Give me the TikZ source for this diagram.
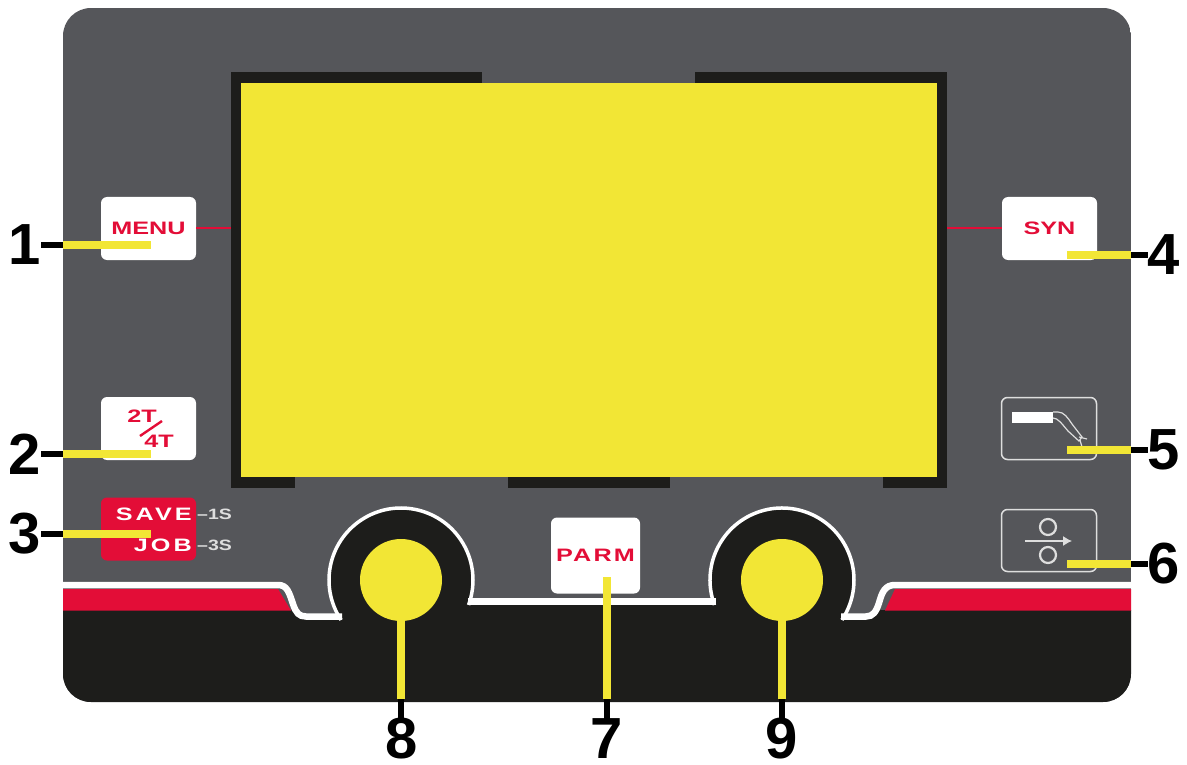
\documentclass[tikz,border=0pt]{standalone}
\usepackage{fontspec}
\setmainfont{Liberation Sans}
\newfontfamily\widefont[FakeStretch=1.4]{Liberation Sans}
\newfontfamily\trackfont[FakeStretch=1.4,LetterSpace=12]{Liberation Sans}
\newfontfamily\savefont[FakeStretch=1.4,LetterSpace=17]{Liberation Sans}
\newfontfamily\timefont[FakeStretch=1.3]{Liberation Sans}
\usetikzlibrary{arrows.meta,positioning,calc}
\definecolor{panelGrey}{HTML}{55565A}
\definecolor{inkBlack}{HTML}{1D1D1B}
\definecolor{markYellow}{HTML}{F2E635}
\definecolor{brandRed}{HTML}{E30D37}
\definecolor{iconGrey}{HTML}{DEDEDE}
\tikzset{
  btnWhite/.style={fill=white, rounded corners=6pt, minimum width=95pt, minimum height=63pt,
    inner sep=0pt, text=brandRed, font=\widefont\bfseries\fontsize{18}{18}\selectfont},
  btnRed/.style={btnWhite, fill=brandRed},
  btnIcon/.style={draw=iconGrey, line width=1.5pt, rounded corners=6pt, minimum width=95pt,
    minimum height=62pt, inner sep=0pt},
  capRed/.style={inner sep=0pt, text=brandRed, font=\widefont\bfseries\fontsize{18}{18}\selectfont},
  capWhite/.style={inner sep=0pt, text=white, font=\savefont\bfseries\fontsize{18}{18}\selectfont},
  capTime/.style={inner sep=0pt, text=iconGrey, font=\timefont\bfseries\fontsize{15}{15}\selectfont},
  %% Callout numbers and their leaders
  numLabel/.style={inner sep=0pt, text=black, font=\bfseries\fontsize{58}{58}\selectfont},
  leadStub/.style={draw=black, line width=6pt},
  leadMark/.style={draw=markYellow, line width=8pt},
  knobCap/.style={circle, fill=markYellow, minimum size=82pt, inner sep=0pt},
  redTie/.style={draw=brandRed, line width=2pt},
  edgeBar/.style={draw=white, line width=6.5pt},
  edgeArc/.style={draw=white, line width=3.5pt},
}
\begin{document}
\begin{tikzpicture}[x=1pt, y=-1pt]
\useasboundingbox (0,0) rectangle (1187,765);
\fill[white] (0,0) rectangle (1187,765);

%% Panel body
\begin{scope}
  \clip[rounded corners=28pt] (63,8) rectangle (1131,702);
  \fill[panelGrey] (63,8) rectangle (1131,702);
  \fill[inkBlack] (63,610) -- (291,610) -- (298,616) -- (440,616) -- (440,601) -- (745,601)
    -- (745,616) -- (872,616) -- (880,610) -- (1131,610) -- (1131,702) -- (63,702) -- cycle;
  \fill[brandRed] (63,589) -- (278,589) -- (291,610.5) -- (63,610.5) -- cycle;
  \fill[brandRed] (895,589) -- (1131,589) -- (1131,610.5) -- (885,610.5) -- cycle;
\end{scope}

%% Screen
\fill[inkBlack] (231,72) rectangle (947,488);
\fill[panelGrey] (482,72) rectangle (695,83);
\foreach \x/\xe in {295/508, 670/883}
  \fill[panelGrey] (\x,477) rectangle (\xe,488);
\fill[markYellow] (241,83) rectangle (937,477);

%% Knobs and white edge
\foreach \x in {401, 782}
  \fill[inkBlack] (\x,580) circle[radius=72];
\draw[edgeBar] (63,585) -- (278,585) .. controls (287,585) and (289,592) .. (293,604)
  .. controls (296,613) and (299,616.5) .. (306,616.5) -- (342,616.5);
\draw[edgeBar] (468,601.5) -- (716,601.5);
\draw[edgeBar] (841,616.5) -- (866,616.5) .. controls (873,616.5) and (876,612) .. (879,603)
  .. controls (882,592) and (885,585) .. (895,585) -- (1131,585);
\draw[edgeArc] (401,580) ++(146.3:72) arc[start angle=146.3, end angle=380.3, radius=72];
\draw[edgeArc] (782,580) ++(159.7:72) arc[start angle=159.7, end angle=393.7, radius=72];
\node[knobCap] (knobLeft)  at (401,580) {};
\node[knobCap] (knobRight) at (782,580) {};

%% Buttons
\node[btnWhite] (btnMenu) at (148.5,228.5) {MENU};
\node[btnWhite] (btnSyn)  at (1049.5,228.5) {SYN};
\node[btnWhite] (btnMode) at (148.5,428.5) {};
\node[btnRed]   (btnSave) at (148.5,529) {};
\node[btnWhite, minimum width=89pt, minimum height=76pt, font=\trackfont\bfseries\fontsize{18}{18}\selectfont]
  (btnParm) at (595.5,555.5) {PARM};
\node[btnIcon]  (btnTorch) at (1049,428.5) {};
\node[btnIcon]  (btnWire)  at (1049,540.5) {};

%% Ties to the screen
\coordinate (frameLeft)  at (231,228);
\coordinate (frameRight) at (947,228);
\draw[redTie] (btnMenu.east |- frameLeft) -- (frameLeft);
\draw[redTie] (frameRight) -- (btnSyn.west |- frameRight);

%% Captions
\node[capRed] (capTwo)  at (142,416.5) {2T};
\node[capRed] (capFour) at (159,441) {4T};
\coordinate (slashLow)  at (140,436);
\coordinate (slashHigh) at (162,421);
\draw[brandRed, line width=2.4pt] (slashLow) -- (slashHigh);
\node[capWhite, anchor=east] (capSave) at (192,514) {SAVE};
\node[capWhite, anchor=east] (capJob)  at (192,545) {JOB};
\node[capTime, anchor=west]  (capOne)  at (197,514.5) {–1S};
\node[capTime, anchor=west]  (capThree) at (197,545) {–3S};

%% Torch icon
\fill[white] (1012,412) rectangle (1053,423);
\draw[iconGrey, line width=1.2pt] (1053,412) -- (1058,412) .. controls (1064,412) and (1068,418) .. (1072,424)
  -- (1082,437) -- (1079,441) -- (1068,431) .. controls (1062,424) and (1058,418) .. (1053,418);
\draw[iconGrey, line width=1.2pt] (1079,437) -- (1087,439);
\draw[iconGrey, line width=1.2pt] (1080,440) -- (1082,447);

%% Wire feed icon
\foreach \y in {527, 555}
  \draw[iconGrey, line width=2.2pt] (1048,\y) circle[radius=8];
\draw[-{Latex[length=9pt,width=10pt]}, iconGrey, line width=1.2pt] (1025,541) -- (1072,541);

%% Callouts, left and right
\foreach \n/\x/\y/\tipx/\edgex/\side in {1/25/245/151/63/east, 2/25/454/151/63/east, 3/25/534/151/63/east,
    4/1164/255/1067/1131/west, 5/1164/450/1067/1131/west, 6/1164/564/1067/1131/west} {
  \node[numLabel] (num\n) at (\x,\y) {\n};
  \coordinate (edge\n) at (\edgex,\y);
  \coordinate (tip\n) at (\tipx,\y);
  \draw[leadStub] (num\n.\side) -- (edge\n);
  \draw[leadMark] (edge\n) -- (tip\n);
}

%% Callouts, bottom
\node[numLabel] (num7) at (607,739) {7};
\node[numLabel] (num8) at (402,739) {8};
\node[numLabel] (num9) at (782,739) {9};
\coordinate (tip7) at (607,577);
\foreach \n/\x in {7/607, 8/401, 9/782} {
  \coordinate (edge\n) at (\x,699);
  \draw[leadStub] (num\n.north -| edge\n) -- (edge\n);
}
\draw[leadMark] (edge7) -- (tip7);
\draw[leadMark] (edge8) -- (knobLeft.south);
\draw[leadMark] (edge9) -- (knobRight.south);

\end{tikzpicture}
\end{document}
